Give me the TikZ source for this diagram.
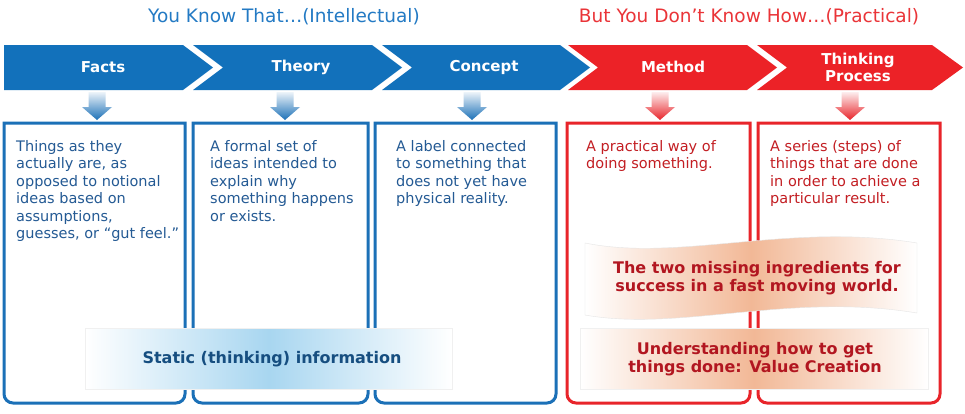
\documentclass[tikz,border=0pt]{standalone}
\usepackage{fontspec}
\setmainfont{DejaVu Sans}
\definecolor{cblue}{RGB}{18,113,187}
\definecolor{cred}{RGB}{236,34,39}
\definecolor{bblue}{RGB}{27,112,183}
\definecolor{bred}{RGB}{232,36,42}
\definecolor{tblue}{RGB}{36,90,148}
\definecolor{tred}{RGB}{195,30,35}
\definecolor{hblue}{RGB}{35,122,196}
\definecolor{hred}{RGB}{234,52,56}
\definecolor{sblue}{RGB}{168,214,240}
\definecolor{speach}{RGB}{242,184,150}
\definecolor{dblue}{RGB}{22,78,128}
\definecolor{dred}{RGB}{178,22,32}
\tikzset{
  chevlabel/.style={text=white, font=\bfseries\fontsize{15}{17}\selectfont, align=center, inner sep=0pt},
  boxtext/.style={anchor=north west, align=left, inner sep=0pt, font=\fontsize{14.5}{17.5}\selectfont},
  bannertext/.style={align=center, inner sep=0pt, font=\bfseries\fontsize{16}{18.5}\selectfont},
  headtext/.style={inner sep=0pt, font=\fontsize{18.5}{20}\selectfont},
  boxframe/.style={line width=3pt}
}
\begin{document}
\begin{tikzpicture}[x=1pt,y=-1pt]
\useasboundingbox (0,0) rectangle (965,413);
\fill[white] (0,0) rectangle (965,413);
% titles
\node[headtext, text=hblue] (h1) at (284,17) {You Know That…(Intellectual)};
\node[headtext, text=hred] (h2) at (749,17) {But You Don’t Know How…(Practical)};
% chevrons
\fill[cblue] (4,45) -- (183,45) -- (213,67.5) -- (183,90) -- (4,90) -- cycle;
\fill[cblue] (193,45) -- (372,45) -- (402,67.5) -- (372,90) -- (193,90) -- (223,67.5) -- cycle;
\fill[cblue] (382,45) -- (560,45) -- (590,67.5) -- (560,90) -- (382,90) -- (412,67.5) -- cycle;
\fill[cred] (568,45) -- (747,45) -- (777,67.5) -- (747,90) -- (568,90) -- (598,67.5) -- cycle;
\fill[cred] (757,45) -- (932,45) -- (963,67.5) -- (932,90) -- (757,90) -- (787,67.5) -- cycle;
\node[chevlabel] (c1) at (103,67) {Facts};
\node[chevlabel] (c2) at (301,67) {Theory};
\node[chevlabel] (c3) at (484,67) {Concept};
\node[chevlabel] (c4) at (673,67) {Method};
\node[chevlabel] (c5) at (858,67) {Thinking\\Process};
% down arrows
\foreach \x/\c in {97/bblue,285/bblue,472/bblue,660/bred,850/bred}
  \shade[top color=\c!8, bottom color=\c] ({\x-8.5},92) -- ({\x+8.5},92) -- ({\x+8.5},107) -- ({\x+15},107) -- (\x,120) -- ({\x-15},107) -- ({\x-8.5},107) -- cycle;
% boxes
\foreach \a/\b/\c in {4/185/bblue, 193/368/bblue, 375/556/bblue, 567/750/bred, 758/940/bred}
  \draw[boxframe, \c] (\a,123) [rounded corners=9pt] -- (\a,403) -- (\b,403) [sharp corners] -- (\b,123) -- cycle;
% box texts
\node[boxtext, text=tblue] (t1) at (16,140) {Things as they\\actually are, as\\opposed to notional\\ideas based on\\assumptions,\\guesses, or “gut feel.”};
\node[boxtext, text=tblue] (t2) at (210,140) {A formal set of\\ideas intended to\\explain why\\something happens\\or exists.};
\node[boxtext, text=tblue] (t3) at (396,140) {A label connected\\to something that\\does not yet have\\physical reality.};
\node[boxtext, text=tred] (t4) at (586,140) {A practical way of\\doing something.};
\node[boxtext, text=tred] (t5) at (770,140) {A series (steps) of\\things that are done\\in order to achieve a\\particular result.};
% banners
\path[left color=white, right color=white, middle color=sblue, draw=black!6] (85,328) rectangle (452,389);
\node[bannertext, text=dblue] (s) at (272,359) {Static (thinking) information};
\path[left color=white, right color=white, middle color=speach, draw=black!10] (585,243) .. controls (680,262) and (790,222) .. (917,243) -- (917,313) .. controls (790,292) and (680,332) .. (585,315) -- cycle;
\node[bannertext, text=dred] (w) at (757,278) {The two missing ingredients for\\success in a fast moving world.};
\path[left color=white, right color=white, middle color=speach, draw=black!6] (580,328) rectangle (928,389);
\node[bannertext, text=dred] (v) at (755,359) {Understanding how to get\\things done: Value Creation};
\end{tikzpicture}
\end{document}
